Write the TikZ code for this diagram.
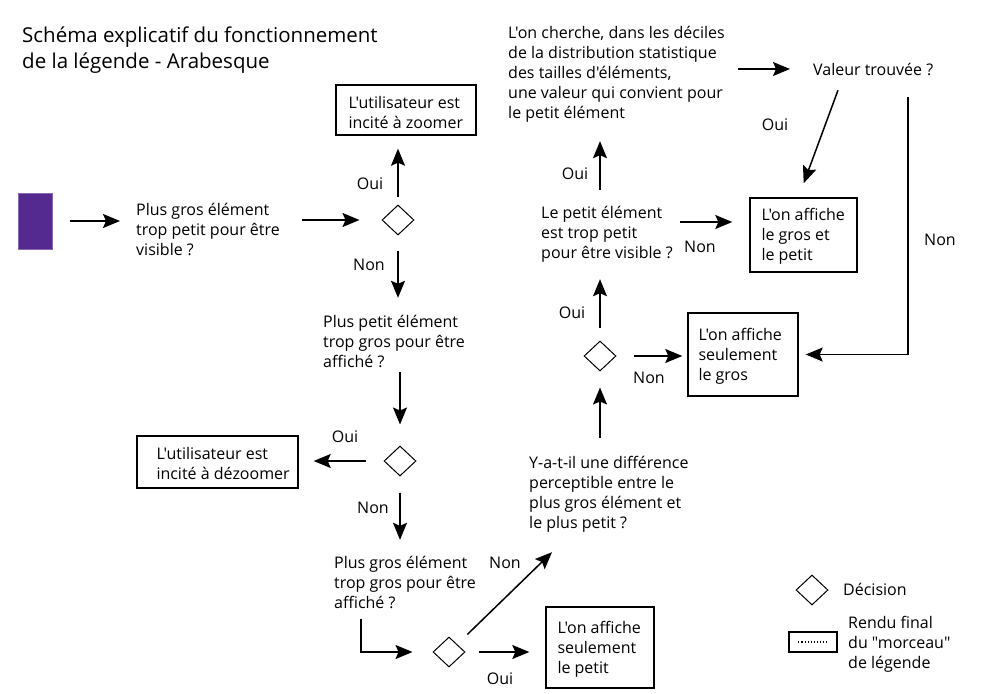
\documentclass[tikz,border=0pt]{standalone}
\usepackage{fontspec}
\newfontfamily\uf{Open Sans}
\usetikzlibrary{shapes.geometric,arrows.meta}
\definecolor{violet1}{HTML}{542A91}
\begin{document}
\begin{tikzpicture}[x=1pt,y=-1pt,
  txt/.style={align=left, inner sep=0pt, font=\uf\fontsize{16}{20}\selectfont},
  ttl/.style={align=left, inner sep=0pt, font=\uf\fontsize{20.5}{26}\selectfont},
  dec/.style={diamond, draw, line width=1pt, minimum width=32pt, minimum height=30pt, inner sep=0pt},
  box/.style={draw, line width=1.4pt, inner sep=0pt},
  purp/.style={fill=violet1, draw=violet1!70!white, line width=0.8pt, minimum width=34pt, minimum height=56pt, inner sep=0pt},
  arr/.style={line width=1.5pt, -{Stealth[length=17pt, width=14pt, inset=3pt]}}]
\useasboundingbox (0,0) rectangle (984,693);

\node[ttl, anchor=west] (title) at (22,50) {Schéma explicatif du fonctionnement\\de la légende - Arabesque};

\node[purp] (start) at (35,221) {};
\node[txt, anchor=west, minimum height=60pt] (q1) at (136,229) {Plus gros élément\\trop petit pour être\\visible ?};
\node[dec] (d1) at (398,220) {};
\node[box, minimum width=140pt, minimum height=50pt] (b1) at (406,110) {};
\node[txt, anchor=west] (b1t) at ([xshift=13pt,yshift=-2pt]b1.west) {L'utilisateur est\\incité à zoomer};
\node[txt, anchor=west, minimum height=60pt] (q2) at (323,341) {Plus petit élément\\trop gros pour être\\affiché ?};
\node[dec] (d2) at (400,461) {};
\node[box, minimum width=161pt, minimum height=52pt] (b2) at (217.5,462) {};
\node[txt, anchor=west] (b2t) at ([xshift=20pt,yshift=-1pt]b2.west) {L'utilisateur est\\incité à dézoomer};
\node[txt, anchor=west, minimum height=60pt] (q3) at (334,582) {Plus gros élément\\trop gros pour être\\affiché ?};
\node[dec] (d3) at (449,652) {};
\node[box, minimum width=108pt, minimum height=81pt] (b3) at (600,647.5) {};
\node[txt, anchor=west] (b3t) at ([xshift=12pt,yshift=-1.5pt]b3.west) {L'on affiche\\seulement\\le petit};
\node[txt, anchor=west, minimum height=80pt] (q4) at (529,494) {Y-a-t-il une différence\\perceptible entre le\\plus gros élément et\\le plus petit ?};
\node[dec] (d4) at (600,356) {};
\node[box, minimum width=110pt, minimum height=83pt] (b4) at (743,354.5) {};
\node[txt, anchor=west] (b4t) at ([xshift=11pt,yshift=-1.5pt]b4.west) {L'on affiche\\seulement\\le gros};
\node[txt, anchor=west, minimum height=60pt] (q5) at (541,234) {Le petit élément\\est trop petit\\pour être visible ?};
\node[box, minimum width=107pt, minimum height=74pt] (b5) at (803.5,235) {};
\node[txt, anchor=west] (b5t) at ([xshift=12pt,yshift=-1.5pt]b5.west) {L'on affiche\\le gros et\\le petit};
\node[txt, anchor=west, minimum height=100pt] (q6) at (508,74) {L'on cherche, dans les déciles\\de la distribution statistique\\des tailles d'éléments,\\une valeur qui convient pour\\le petit élément};
\node[txt, anchor=west, minimum height=20pt] (q7) at (813,69) {Valeur trouvée ?};

% labels
\node[txt] (l1) at (370,184) {Oui};
\node[txt] (l2) at (369,265) {Non};
\node[txt] (l3) at (345,437) {Oui};
\node[txt] (l4) at (373,508) {Non};
\node[txt] (l5) at (500,679) {Oui};
\node[txt] (l6) at (505,563) {Non};
\node[txt] (l7) at (572,313) {Oui};
\node[txt] (l8) at (649,378) {Non};
\node[txt] (l9) at (575,174) {Oui};
\node[txt] (l10) at (700,247) {Non};
\node[txt] (l11) at (775,125) {Oui};
\node[txt] (l12) at (940,240) {Non};

% connectors
\draw[arr, shorten <=18pt, shorten >=16pt] (start.east) -- (start.east -| q1.west);
\draw[arr, shorten <=22pt, shorten >=22pt] (d1.west -| q1.east) -- (d1.west);
\draw[arr, shorten <=8pt, shorten >=13pt] (d1.north) -- (d1.north |- b1.south);
\draw[arr, shorten <=15pt, shorten >=13pt] (d1.south) -- (d1.south |- q2.north);
\draw[arr, shorten <=1pt, shorten >=21pt] (d2.north |- q2.south) -- (d2.north);
\draw[arr, shorten <=18pt, shorten >=15pt] (d2.west) -- (d2.west -| b2.east);
\draw[arr, shorten <=16pt, shorten >=12pt] (d2.south) -- (d2.south |- q3.north);
\draw[arr, shorten >=20pt] ([xshift=27pt,yshift=-7pt]q3.south west) |- (d3.west);
\draw[arr, shorten <=13pt, shorten >=16pt] (d3.east) -- (d3.east -| b3.west);
\draw[arr, shorten <=14pt] (d3.north east) -- ([xshift=23pt,yshift=-18pt]q4.south west);
\draw[arr, shorten <=16pt, shorten >=16pt] (d4.south |- q4.north) -- (d4.south);
\draw[arr, shorten <=13pt, shorten >=15pt] (d4.north) -- (d4.north |- q5.south);
\draw[arr, shorten <=17pt, shorten >=5pt] (d4.east) -- (d4.east -| b4.west);
\draw[arr, shorten <=14pt, shorten >=17pt] (d4.north |- q5.north) -- (d4.north |- q6.south);
\draw[arr, shorten <=7pt, shorten >=17pt] ([yshift=12pt]q5.east) -- ([yshift=12pt]q5.east -| b5.west);
\draw[arr, shorten <=13pt, shorten >=23pt] (q7.west -| q6.east) -- (q7.west);
\draw[arr, shorten >=15pt] ([xshift=25pt,yshift=-11pt]q7.south west) -- ([xshift=-5pt]b5.north);
\draw[arr, shorten >=7pt] ([xshift=95pt,yshift=-18pt]q7.south west) |- (b4.east);

% legend
\node[dec] (ld) at (812,590) {};
\node[txt, anchor=west] (ldt) at (843,589) {Décision};
\node[box, minimum width=48pt, minimum height=20pt] (lb) at (813,642) {};
\draw[dotted, line width=1.1pt, shorten <=10pt, shorten >=10pt] (lb.west) -- (lb.east);
\node[txt, anchor=west] (lbt) at (848,644) {Rendu final\\du "morceau"\\de légende};
\end{tikzpicture}
\end{document}
